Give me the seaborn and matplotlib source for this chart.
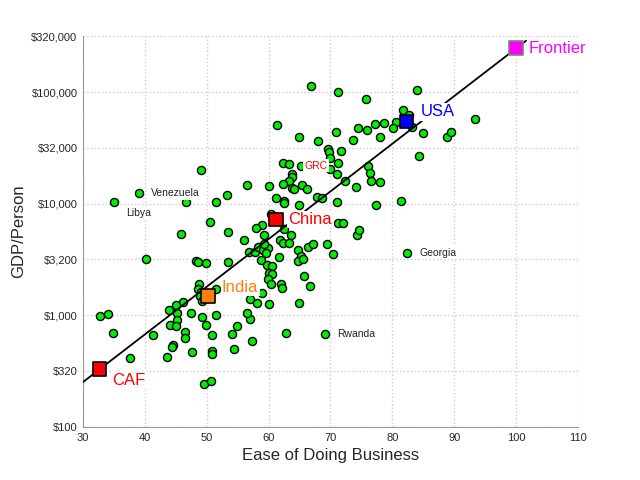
import numpy as np
import pandas as pd
import matplotlib
matplotlib.use("Agg")
import matplotlib.pyplot as plt
import seaborn as sns

# ease of doing business score vs GDP per person
ease = [
    66.8, 71.2, 75.7, 84.0, 81.7, 82.7, 83.2, 84.9, 93.3, 88.8,
    89.5, 84.3, 74.4, 75.9, 77.2, 78.6, 80.6, 80.1, 70.9, 64.9,
    68.0, 73.6, 78.0, 69.6, 69.8, 71.7, 69.9, 71.2, 76.1, 76.4,
    69.9, 71.0, 72.3, 74.1, 76.5, 78.0, 61.4, 62.3, 63.3, 63.8,
    63.8, 63.3, 63.8, 64.1, 62.3, 65.4, 66.2, 60.1, 56.5, 49.1,
    39.0, 35.0, 46.6, 51.5, 53.3, 61.2, 62.5, 62.5, 64.9, 67.8,
    68.6, 71.0, 77.3, 81.4, 50.5, 60.4, 58.9, 58.0, 62.5, 63.6,
    59.2, 56.0, 61.8, 62.3, 63.3, 71.2, 72.0, 74.3, 74.6, 53.4,
    45.8, 56.8, 57.8, 58.3, 59.1, 59.9, 59.6, 59.2, 58.8, 61.7,
    64.7, 65.2, 64.7, 65.6, 66.4, 67.2, 69.4, 70.4, 82.4, 59.7,
    60.5, 60.1, 60.5, 59.9, 60.4, 62.0, 62.2, 65.7, 66.7, 40.2,
    48.3, 48.6, 49.9, 53.4, 48.7, 48.6, 49.1, 48.9, 49.2, 51.5,
    57.0, 58.9, 58.1, 60.1, 64.9, 57.0, 56.5, 46.2, 45.0, 43.9,
    45.2, 45.2, 44.1, 45.0, 47.5, 49.2, 51.5, 49.9, 54.9, 32.7,
    34.0, 34.8, 41.3, 46.5, 46.5, 50.8, 54.1, 57.3, 62.8, 69.1,
    44.5, 44.4, 47.6, 50.8, 50.8, 54.4, 37.6, 43.6, 49.6, 50.7,
    65.3,
]
gdp = [
    113500, 100200, 86700, 104400, 69000, 62200, 48600, 42900, 57300, 39500,
    43800, 26700, 47600, 45600, 51700, 52800, 53900, 47600, 43800, 39500,
    36400, 37100, 39500, 30800, 29000, 29600, 25600, 23500, 21700, 19100,
    20400, 18400, 16200, 14300, 15900, 15600, 50600, 23500, 22600, 18400,
    17300, 15900, 14000, 13500, 15200, 14900, 13700, 14600, 14900, 20000,
    12400, 10500, 10300, 10500, 11900, 11200, 10700, 10100, 9680, 11600,
    11200, 10300, 9680, 10700, 6950, 8200, 6530, 6140, 6010, 5310,
    5310, 4790, 4790, 4500, 4500, 6800, 6800, 5310, 5890, 5650,
    5420, 3740, 3740, 4140, 3890, 4060, 3660, 4410, 3160, 3370,
    3890, 3440, 3100, 3230, 4140, 4410, 4410, 3590, 3660, 2860,
    2800, 2420, 2370, 2140, 1930, 1930, 1770, 2270, 1850, 3230,
    3100, 3040, 2970, 3040, 1930, 1740, 1630, 1500, 1360, 1740,
    1410, 1600, 1300, 1270, 1300, 930, 1060, 1330, 1250, 1120,
    1060, 910, 825, 810, 1060, 970, 1010, 825, 810, 990,
    1040, 700, 670, 710, 630, 670, 685, 590, 700, 685,
    545, 525, 470, 480, 455, 500, 415, 425, 245, 260,
    22000,
]

# small labelled countries: name, ease, gdp, offset in points
small_names = ["Venezuela", "Libya", "GRC", "Georgia", "Rwanda"]
small_ease = [39.0, 35.0, 65.3, 82.4, 69.1]
small_gdp = [12400, 10500, 22000, 3660, 685]

# highlighted countries
big_names = ["CAF", "India", "China", "USA", "Frontier"]
big_ease = [32.7, 50.2, 61.2, 82.3, 100.0]
big_gdp = [330, 1500, 7240, 54900, 249000]
big_colors = ["#ff0000", "#ff7f0e", "#ff0000", "#0000ff", "#ff00ff"]

# trend line
fit_ease = [30.0, 101.6]
fit_gdp = [253, 290000]

yticks = [100, 320, 1000, 3200, 10000, 32000, 100000, 320000]
ytick_labels = ["$100", "$320", "$1,000", "$3,200", "$10,000",
                "$32,000", "$100,000", "$320,000"]
xticks = [30, 40, 50, 60, 70, 80, 90, 100, 110]

sns.set_style("white")
plt.rcParams['font.family'] = ['Liberation Sans', 'DejaVu Sans']

fig = plt.figure(figsize=(6.4, 4.8), dpi=100)
ax = fig.add_axes([0.1297, 0.1104, 0.7734, 0.8146])

df = pd.DataFrame({'ease': ease, 'gdp': gdp})
sns.scatterplot(data=df, x='ease', y='gdp', ax=ax, color='#00ee00',
                edgecolor='black', linewidth=1.0, s=34, zorder=2)

fit = pd.DataFrame({'ease': fit_ease, 'gdp': fit_gdp})
sns.lineplot(data=fit, x='ease', y='gdp', ax=ax, color='black',
             linewidth=1.3, zorder=3)

big = pd.DataFrame({'ease': big_ease, 'gdp': big_gdp, 'name': big_names})
edge = ['black', 'black', 'black', 'black', 'gray']
sns.scatterplot(data=big, x='ease', y='gdp', hue='name',
                palette=dict(zip(big_names, big_colors)), marker='s',
                s=95, edgecolor=edge, linewidth=1.2, ax=ax, zorder=4,
                legend=False)

big_offsets = [(9, -8), (10, 6), (9, 0), (10, 7), (9, 0)]
for name, x, y, c, off in zip(big_names, big_ease, big_gdp, big_colors, big_offsets):
    ax.annotate(name, (x, y), xytext=off, textcoords='offset points',
                color=c, fontsize=12, ha='left', va='center', zorder=5,
                bbox=dict(facecolor='white', edgecolor='none', pad=1))

small_offsets = [(9, 0), (9, -8), (2, 0), (9, 0), (9, 0)]
for name, x, y, off in zip(small_names, small_ease, small_gdp, small_offsets):
    col = 'red' if name == 'GRC' else '#222222'
    ax.annotate(name, (x, y), xytext=off, textcoords='offset points',
                color=col, fontsize=7.5, ha='left', va='center', zorder=5,
                bbox=dict(facecolor='white', edgecolor='none', pad=1))

ax.set_yscale('log')
ax.set_xlim(30, 110)
ax.set_ylim(100, 320000)
ax.set_xticks(xticks)
ax.set_yticks(yticks)
ax.set_yticklabels(ytick_labels)
ax.minorticks_off()
ax.tick_params(axis='both', length=0, labelsize=8, pad=4)
ax.grid(True, color='#cccccc', linestyle=':', linewidth=1.0)
ax.set_axisbelow(True)
for side in ['top', 'right']:
    ax.spines[side].set_visible(False)
for side in ['left', 'bottom']:
    ax.spines[side].set_color('#999999')
ax.set_xlabel('Ease of Doing Business', fontsize=12)
ax.set_ylabel('GDP/Person', fontsize=12)

fig.savefig('out.png', dpi=100)
